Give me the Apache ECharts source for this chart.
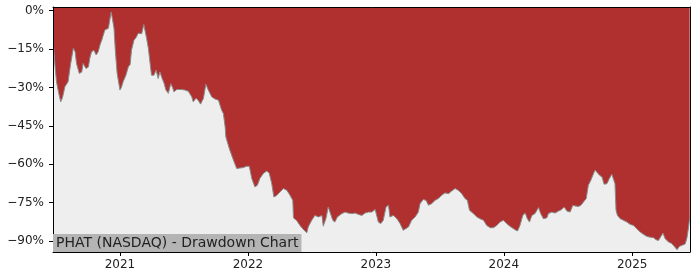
<!DOCTYPE html>
<html>
<head>
<meta charset="utf-8">
<script src="https://cdn.jsdelivr.net/npm/echarts@6/dist/echarts.min.js"></script>
<style>
html,body{margin:0;padding:0;background:#fff;}
#chart{width:700px;height:280px;}
</style>
</head>
<body>
<div id="chart"></div>
<script>
const dates = [
"2020-06-25","2020-06-30","2020-07-04","2020-07-10","2020-07-16","2020-07-21","2020-07-28","2020-08-06","2020-08-13","2020-08-21",
"2020-08-26","2020-08-30","2020-09-07","2020-09-14","2020-09-18","2020-09-26","2020-10-03","2020-10-07","2020-10-12","2020-10-19",
"2020-10-25","2020-10-31","2020-11-05","2020-11-10","2020-11-14","2020-11-19","2020-11-29","2020-12-03","2020-12-07","2020-12-11",
"2020-12-15","2020-12-19","2020-12-24","2021-01-01","2021-01-05","2021-01-10","2021-01-18","2021-01-25","2021-01-30","2021-02-03",
"2021-02-10","2021-02-16","2021-02-22","2021-03-04","2021-03-10","2021-03-18","2021-03-23","2021-03-28","2021-04-01","2021-04-08",
"2021-04-14","2021-04-20","2021-04-25","2021-04-30","2021-05-07","2021-05-12","2021-05-19","2021-05-26","2021-05-31","2021-06-04",
"2021-06-12","2021-06-26","2021-07-05","2021-07-15","2021-07-25","2021-07-29","2021-08-06","2021-08-12","2021-08-19","2021-08-27",
"2021-09-03","2021-09-10","2021-09-20","2021-09-29","2021-10-09","2021-10-13","2021-10-18","2021-10-23","2021-10-28","2021-10-30",
"2021-11-09","2021-11-19","2021-11-30","2021-12-09","2021-12-19","2021-12-28","2022-01-05","2022-01-12","2022-01-21","2022-01-28",
"2022-02-04","2022-02-14","2022-02-24","2022-03-03","2022-03-10","2022-03-16","2022-03-24","2022-04-03","2022-04-12","2022-04-22",
"2022-05-01","2022-05-09","2022-05-11","2022-05-20","2022-05-30","2022-06-08","2022-06-18","2022-06-22","2022-07-02","2022-07-11",
"2022-07-21","2022-07-31","2022-08-04","2022-08-12","2022-08-18","2022-08-25","2022-08-31","2022-09-06","2022-09-13","2022-09-26",
"2022-10-05","2022-10-14","2022-10-24","2022-11-03","2022-11-12","2022-11-22","2022-12-01","2022-12-11","2022-12-20","2022-12-30",
"2023-01-03","2023-01-08","2023-01-15","2023-01-22","2023-01-30","2023-02-06","2023-02-10","2023-02-20","2023-03-02","2023-03-11",
"2023-03-20","2023-03-25","2023-04-04","2023-04-13","2023-04-23","2023-05-02","2023-05-07","2023-05-16","2023-05-24","2023-05-31",
"2023-06-09","2023-06-19","2023-06-28","2023-07-08","2023-07-17","2023-07-27","2023-08-05","2023-08-15","2023-08-24","2023-09-03",
"2023-09-12","2023-09-19","2023-09-25","2023-10-06","2023-10-16","2023-10-25","2023-11-04","2023-11-13","2023-11-23","2023-12-02",
"2023-12-12","2023-12-21","2023-12-31","2024-01-09","2024-01-19","2024-02-02","2024-02-09","2024-02-16","2024-02-24","2024-03-02",
"2024-03-08","2024-03-14","2024-03-21","2024-03-30","2024-04-09","2024-04-15","2024-04-23","2024-05-03","2024-05-07","2024-05-17",
"2024-05-26","2024-06-05","2024-06-14","2024-06-21","2024-06-29","2024-07-08","2024-07-16","2024-07-22","2024-08-01","2024-08-08",
"2024-08-15","2024-08-23","2024-08-29","2024-09-05","2024-09-13","2024-09-17","2024-09-22","2024-09-30","2024-10-07","2024-10-13",
"2024-10-21","2024-10-28","2024-11-04","2024-11-09","2024-11-13","2024-11-16","2024-11-20","2024-11-28","2024-12-07","2024-12-17",
"2024-12-26","2025-01-05","2025-01-14","2025-01-24","2025-02-02","2025-02-12","2025-02-21","2025-03-03","2025-03-10","2025-03-17",
"2025-03-24","2025-03-30","2025-04-05","2025-04-15","2025-04-24","2025-05-01","2025-05-09","2025-05-16","2025-05-23","2025-06-01",
"2025-06-06","2025-06-11","2025-06-14"
];
const drawdown = [
-13,-22,-27.8,-32,-35.6,-34,-29.7,-27.8,-21,-14.7,
-16,-20.6,-24.5,-24,-20.6,-22.6,-22,-18.6,-16,-15.5,
-17.3,-16,-13.4,-11.5,-11,-7.5,-6.9,-3.6,-0.5,-3.6,
-6.9,-16,-24.5,-31,-30,-27.8,-25.2,-21.9,-21,-15.4,
-11.5,-10.5,-8.8,-9,-5.4,-10.8,-14.7,-20.6,-25.2,-25.2,
-23.2,-26.5,-23.9,-26,-28.4,-31,-32.3,-28.5,-30,-31.7,
-30.8,-30.8,-31,-31.5,-33.7,-35.6,-34.2,-35,-36.5,-34.3,
-28.7,-31,-33.7,-34.5,-35,-35.2,-38.9,-40.2,-45.4,-49.3,
-53.9,-57.8,-61.7,-61.5,-61.3,-60.8,-60.8,-65.6,-68.9,-68.2,
-65.6,-63.6,-62.6,-63.6,-67.6,-72.8,-72.2,-70.8,-69.5,-70.2,
-72.1,-74.1,-81,-82,-84,-85.5,-86.8,-84.5,-81.9,-80,
-80.6,-80,-84.2,-81,-76.7,-79.5,-81.9,-82.6,-80.6,-79.3,
-78.7,-79.1,-79.3,-79.1,-79.6,-80,-79.1,-78.7,-78.7,-77.7,
-77.3,-82.6,-83.2,-81.9,-76.7,-76,-80.6,-80,-81.3,-83.2,
-85.8,-86.5,-84.5,-81.9,-80.6,-78.7,-75.4,-73.8,-74.1,-76,
-75.4,-74.1,-73.4,-72.1,-71.2,-71.5,-70.5,-69.5,-70.2,-71.5,
-73.4,-74.1,-78,-79.3,-80.6,-81.3,-81.9,-83.9,-84.8,-84.8,
-83.9,-82.6,-81.9,-83.2,-84.3,-85.6,-86.1,-83.9,-80,-79.1,
-81.3,-82.6,-80,-79.3,-76.9,-79.3,-81.3,-80.9,-79.3,-78.7,
-79.1,-78.3,-77.7,-76.7,-78.3,-78.7,-76,-76.3,-76.5,-76,
-74.8,-73.4,-68.2,-66.3,-63.6,-62.3,-62.9,-64.3,-65,-67.8,
-67.6,-65.6,-63.9,-63.6,-67.6,-78,-80,-81.3,-81.9,-82.6,
-83.5,-83.9,-85.2,-86.5,-87.4,-88.2,-88.5,-88.7,-89.5,-89.8,
-88.2,-86.9,-89.1,-90.4,-91,-92.1,-93.4,-92.1,-91.7,-91.2,
-89,-84.5,-81
];
const yTicks = [0, -15, -30, -45, -60, -75, -90];
const xTickYears = [2021, 2022, 2023, 2024, 2025];
const chartTitle = "PHAT (NASDAQ) - Drawdown Chart";

function toTime(s) {
  const p = s.split('-').map(Number);
  return new Date(p[0], p[1] - 1, p[2]).getTime();
}

const chart = echarts.init(document.getElementById('chart'), null, {renderer: 'canvas'});
const seriesData = dates.map((d, i) => [toTime(d), drawdown[i]]);
const xTickValues = xTickYears.map(y => new Date(y, 0, 1).getTime());
const xMin = toTime("2020-06-24");
const xMax = toTime("2025-06-15");
const yMin = -94.3, yMax = 1.45;
const FONT = 'DejaVu Sans';
const fmtPct = v => (v < 0 ? '\u2212' + Math.abs(v) : String(v)) + '%';

const hiddenAxisBase = {
  axisLabel: {show: false}, axisTick: {show: false}, splitLine: {show: false},
  axisLine: {show: true, onZero: false, lineStyle: {color: '#000', width: 1}}, z: 10
};

chart.setOption({
  animation: false,
  backgroundColor: '#ffffff',
  grid: {left: 53, right: 10, top: 7, bottom: 28, show: true, backgroundColor: '#eeeeee', borderWidth: 0},
  xAxis: [{
    type: 'value', min: xMin, max: xMax, z: 10, scale: true,
    axisLine: {show: true, onZero: false, lineStyle: {color: '#000', width: 1}},
    axisTick: {show: true, length: 4, lineStyle: {color: '#000'}, customValues: xTickValues},
    axisLabel: {show: true, customValues: xTickValues, margin: 7, color: '#222', fontFamily: FONT, fontSize: 12,
      formatter: v => String(new Date(v).getFullYear())},
    splitLine: {show: false}
  }, Object.assign({type: 'value', min: xMin, max: xMax, scale: true, position: 'top'}, hiddenAxisBase)],
  yAxis: [{
    type: 'value', min: yMin, max: yMax, z: 10,
    axisLine: {show: true, onZero: false, lineStyle: {color: '#000', width: 1}},
    axisTick: {show: true, length: 4, lineStyle: {color: '#000'}, customValues: yTicks},
    axisLabel: {show: true, customValues: yTicks, margin: 9, color: '#222', fontFamily: FONT, fontSize: 12,
      formatter: fmtPct},
    splitLine: {show: false}
  }, Object.assign({type: 'value', min: yMin, max: yMax, position: 'right'}, hiddenAxisBase)],
  series: [{
    type: 'line', xAxisIndex: 0, yAxisIndex: 0,
    data: seriesData, showSymbol: false, symbol: 'none',
    lineStyle: {color: '#8a8a8a', width: 1},
    areaStyle: {color: '#b03030', opacity: 1, origin: 'end'},
    z: 2
  }],
  graphic: [{
    type: 'text', left: 53, bottom: 28, z: 100,
    style: {text: chartTitle, fill: '#222', font: '14px "DejaVu Sans"',
      backgroundColor: '#b4b4b4', padding: [2, 3, 2, 3]}
  }]
});
</script>
</body>
</html>
